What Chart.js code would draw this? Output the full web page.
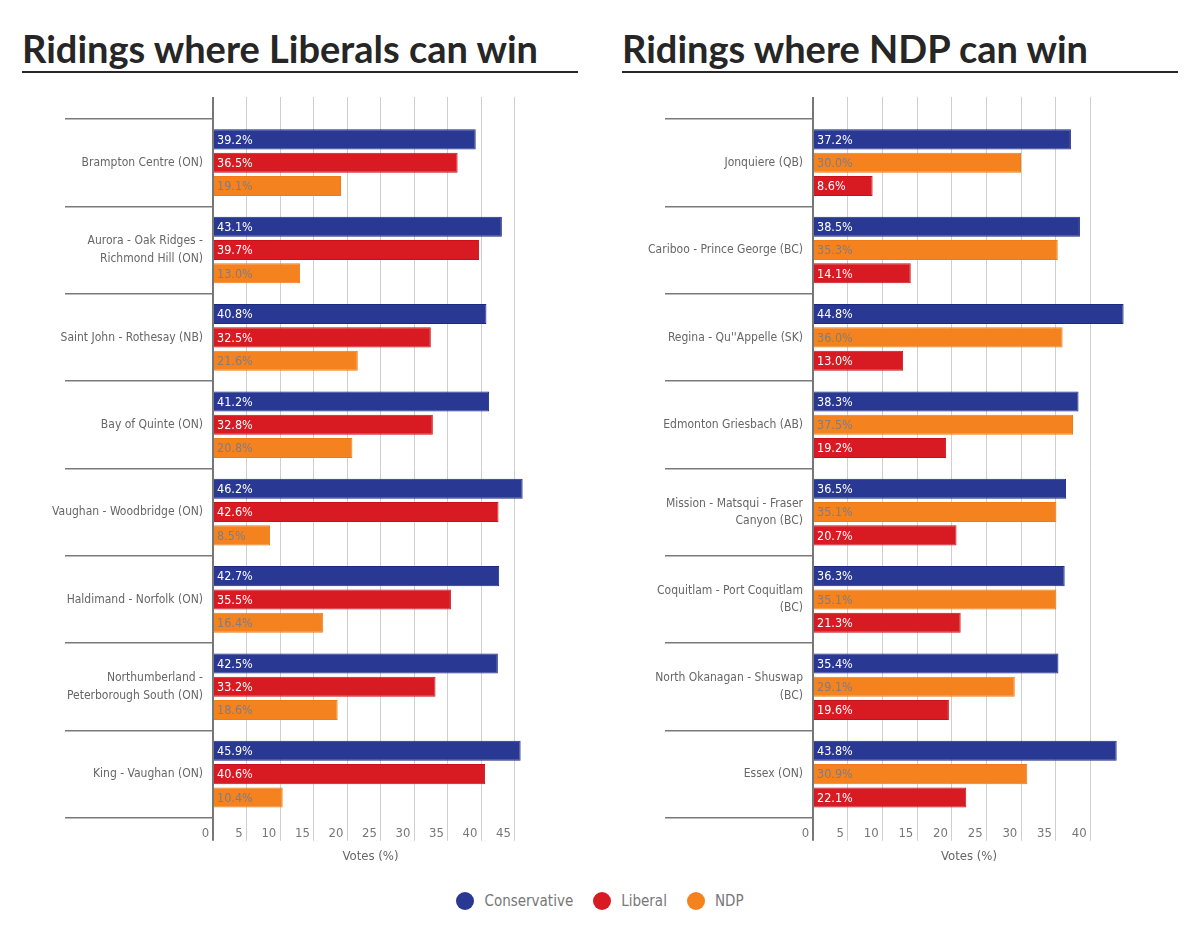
<!DOCTYPE html>
<html>
<head>
<meta charset="utf-8">
<script src="https://cdn.jsdelivr.net/npm/chart.js@4.4.1/dist/chart.umd.min.js"></script>
<style>
body{margin:0;background:#fff;width:1200px;height:930px;position:relative;overflow:hidden;font-family:Lato,sans-serif}
.title{position:absolute;top:26px;margin:0;width:556px;font-weight:bold;font-size:38px;line-height:44px;color:#262626;border-bottom:2px solid #262626;padding-bottom:1px;white-space:nowrap}
.box{position:absolute;top:80px;width:600px;height:800px}
#legend{position:absolute;top:892px;left:0;width:1200px;display:flex;justify-content:center;font-family:'DejaVu Sans Condensed',Lato,sans-serif;font-size:15px;color:#777}
#legend span{display:flex;align-items:center;margin:0 10px}
#legend i{display:inline-block;width:18px;height:18px;border-radius:50%;margin-right:10px}
</style>
</head>
<body>
<h2 class="title" style="left:22px">Ridings where Liberals can win</h2>
<h2 class="title" style="left:622px">Ridings where NDP can win</h2>
<div class="box" style="left:0"><canvas id="libChart" width="600" height="800"></canvas></div>
<div class="box" style="left:600px"><canvas id="ndpChart" width="600" height="800"></canvas></div>
<div id="legend"></div>
<script>
const partyNames = ["Conservative", "Liberal", "NDP"];
const partyColors = ["#283893", "#d81a22", "#f4821f"];
const partyBorders = ["#1c2a80", "#c8121a", "#ee7a18"];
const partyTextColors = ["#ffffff", "#ffffff", "#7d7d88"];

const libRidings = [
  "Brampton Centre (ON)",
  ["Aurora - Oak Ridges -", "Richmond Hill (ON)"],
  "Saint John - Rothesay (NB)",
  "Bay of Quinte (ON)",
  "Vaughan - Woodbridge (ON)",
  "Haldimand - Norfolk (ON)",
  ["Northumberland -", "Peterborough South (ON)"],
  "King - Vaughan (ON)"
];
const libConservative = [39.2, 43.1, 40.8, 41.2, 46.2, 42.7, 42.5, 45.9];
const libLiberal = [36.5, 39.7, 32.5, 32.8, 42.6, 35.5, 33.2, 40.6];
const libNdp = [19.1, 13.0, 21.6, 20.8, 8.5, 16.4, 18.6, 10.4];
const libTicks = [0, 5, 10, 15, 20, 25, 30, 35, 40, 45];

const ndpRidings = [
  "Jonquiere (QB)",
  "Cariboo - Prince George (BC)",
  "Regina - Qu''Appelle (SK)",
  "Edmonton Griesbach (AB)",
  ["Mission - Matsqui - Fraser", "Canyon (BC)"],
  ["Coquitlam - Port Coquitlam", "(BC)"],
  ["North Okanagan - Shuswap", "(BC)"],
  "Essex (ON)"
];
const ndpConservative = [37.2, 38.5, 44.8, 38.3, 36.5, 36.3, 35.4, 43.8];
const ndpNdp = [30.0, 35.3, 36.0, 37.5, 35.1, 35.1, 29.1, 30.9];
const ndpLiberal = [8.6, 14.1, 13.0, 19.2, 20.7, 21.3, 19.6, 22.1];
const ndpTicks = [0, 5, 10, 15, 20, 25, 30, 35, 40];

const smallFont = "'DejaVu Sans Condensed', Lato, sans-serif";

const barLabels = {
  id: "barLabels",
  afterDatasetsDraw(chart) {
    const c = chart.ctx;
    chart.data.datasets.forEach((ds, i) => {
      chart.getDatasetMeta(i).data.forEach((bar, j) => {
        c.save();
        c.font = "12.5px " + smallFont;
        c.fillStyle = ds.textColor;
        c.textBaseline = "middle";
        c.fillText(ds.data[j].toFixed(1) + "%", bar.base + 3, bar.y + 1);
        c.restore();
      });
    });
  }
};

function makeDataset(party, values){
  let k = partyNames.indexOf(party);
  return {
    label: party,
    data: values,
    backgroundColor: partyColors[k],
    borderColor: partyBorders[k],
    borderWidth: 1,
    textColor: partyTextColors[k],
    categoryPercentage: 0.8,
    barPercentage: 0.86
  };
}

function gridColor(ctx){ return ctx.tick && ctx.tick.value === 0 ? "#777" : "#cfcfcf"; }
function gridWidth(ctx){ return ctx.tick && ctx.tick.value === 0 ? 2 : 1; }

function makeChart(canvasID, ridings, datasets, ticks, max, padRight){
  const setTicks = scale => { scale.ticks = ticks.map(v => ({value: v})); };
  new Chart(document.getElementById(canvasID), {
    type: "bar",
    data: { labels: ridings, datasets: datasets },
    plugins: [barLabels],
    options: {
      indexAxis: "y",
      responsive: false,
      animation: false,
      layout: { padding: { left: 3, right: padRight, top: 17, bottom: 12 } },
      plugins: { legend: { display: false }, tooltip: { enabled: false } },
      scales: {
        x: {
          type: "linear", position: "bottom", min: 0, max: max,
          afterBuildTicks: setTicks,
          border: { display: false },
          grid: { color: gridColor, lineWidth: gridWidth, tickLength: 23 },
          ticks: { align: "end", padding: -15, color: "#777", font: { family: smallFont, size: 13 }, callback: v => v + " " },
          title: { display: true, text: "Votes (%)", color: "#666", font: { family: smallFont, size: 13 }, padding: { top: 22, bottom: 4 } }
        },
        x2: {
          type: "linear", position: "top", min: 0, max: max,
          afterBuildTicks: setTicks,
          border: { display: false },
          grid: { color: gridColor, lineWidth: gridWidth, tickLength: 22, drawOnChartArea: false },
          ticks: { display: false }
        },
        y: {
          type: "category",
          afterFit: s => { s.width = 210; },
          border: { display: false },
          grid: { drawOnChartArea: false, offset: true, tickLength: 148, color: "#7a7a7a", lineWidth: 1.5 },
          ticks: { padding: -138, color: "#666", font: { family: smallFont, size: 12, lineHeight: 1.45 } }
        }
      }
    }
  });
}

makeChart("libChart", libRidings, [
  makeDataset("Conservative", libConservative),
  makeDataset("Liberal", libLiberal),
  makeDataset("NDP", libNdp)
], libTicks, 47, 72);

makeChart("ndpChart", ndpRidings, [
  makeDataset("Conservative", ndpConservative),
  makeDataset("NDP", ndpNdp),
  makeDataset("Liberal", ndpLiberal)
], ndpTicks, 45, 75);

const legend = document.getElementById("legend");
partyNames.forEach((name, k) => {
  let item = document.createElement("span");
  item.innerHTML = '<i style="background:' + partyColors[k] + '"></i>' + name;
  legend.appendChild(item);
});
</script>
</body>
</html>
